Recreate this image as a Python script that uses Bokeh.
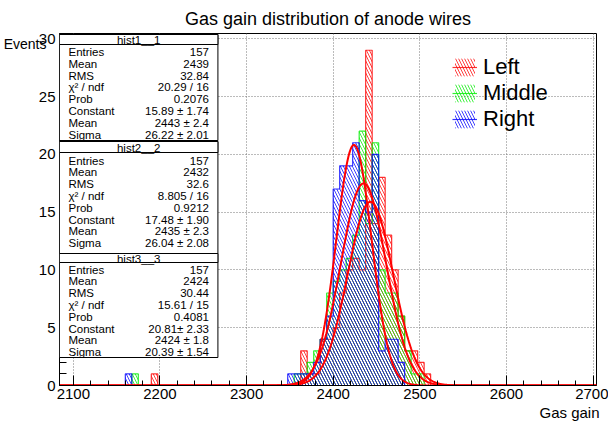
import numpy as np
from bokeh.plotting import figure
from bokeh.models import (Range1d, Label, BoxAnnotation, Legend, LegendItem, LinearAxis,
                          SingleIntervalTicker, FixedTicker, ColumnDataSource, Title)
from bokeh.embed import file_html
from bokeh.resources import INLINE

# ---------------- data ----------------
bin_width = 7.5
hist_min, hist_max = 2100, 2700
bin_lefts = [2160, 2167.5, 2190, 2347.5, 2355, 2362.5, 2370, 2377.5, 2385, 2392.5,
             2400, 2407.5, 2415, 2422.5, 2430, 2437.5, 2445, 2452.5, 2460, 2467.5,
             2475, 2482.5, 2490, 2497.5, 2505]
left_counts = [0, 0, 1, 0, 0, 3, 1, 1, 4, 4,
               5, 8, 10, 11, 10, 29, 14, 18, 13, 10,
               6, 3, 3, 2, 1]
middle_counts = [0, 1, 0, 0, 1, 1, 2, 3, 4, 8,
                 9, 10, 11, 13, 22, 14, 21, 10, 8, 8,
                 6, 3, 1, 1, 0]
right_counts = [1, 0, 0, 1, 1, 1, 1, 2, 4, 6,
                17, 19, 19, 21, 16, 15, 20, 3, 4, 4,
                2, 0, 0, 0, 0]

series_names = ["Left", "Middle", "Right"]
series_colors = ["#ff0000", "#00ee00", "#0000ff"]

# Gaussian fit parameters (Constant, Mean, Sigma) from the stat boxes
fit_constant = [15.89, 17.48, 20.81]
fit_mean = [2443, 2435, 2424]
fit_sigma = [26.22, 26.04, 20.39]

stat_titles = ["hist1__1", "hist2__2", "hist3__3"]
stat_names = ["Entries", "Mean", "RMS", "\u03c7\u00b2 / ndf", "Prob", "Constant", "Mean", "Sigma"]
stat_values = [
    ["157", "2439", "32.84", "20.29 / 16", "0.2076", "15.89 \u00b1 1.74", "2443 \u00b1 2.4", "26.22 \u00b1 2.01"],
    ["157", "2432", "32.6", "8.805 / 16", "0.9212", "17.48 \u00b1 1.90", "2435 \u00b1 2.3", "26.04 \u00b1 2.08"],
    ["157", "2424", "30.44", "15.61 / 15", "0.4081", "20.81\u00b1 2.33", "2424 \u00b1 1.8", "20.39 \u00b1 1.54"],
]

x_ticks_interval = 100
y_ticks_interval = 5
y_title = "Events"
x_title = "Gas gain"
title_text = "Gas gain distribution of anode wires"

# ---------------- layout ----------------
W, H = 608, 421
L, R, T, B = 57, 596, 33, 385
XL, XR = 2084, 2704
YB, YT = 0, 30.45
FONT = "Liberation Sans"


def dx(px):
    return XL + (px - L) / (R - L) * (XR - XL)


def dy(py):
    return YB + (B - py) / (B - T) * (YT - YB)


p = figure(width=W, height=H, output_backend="svg", toolbar_location=None,
           x_range=Range1d(XL, XR), y_range=Range1d(YB, YT),
           min_border_left=L, min_border_right=W - R, min_border_top=T,
           min_border_bottom=H - B)
p.background_fill_color = "white"
p.border_fill_color = "white"
p.outline_line_color = "black"
p.outline_line_width = 1

p.title.text = title_text
p.title.align = "center"
p.title.text_font = FONT
p.title.text_font_size = "18px"
p.title.text_font_style = "normal"
p.title.text_color = "black"
p.title.standoff = 10

for ax in (p.xaxis[0], p.yaxis[0]):
    ax.axis_line_color = "black"
    ax.major_tick_line_color = "black"
    ax.minor_tick_line_color = "black"
    ax.major_tick_out = 0
    ax.minor_tick_out = 0
    ax.major_label_text_font = FONT
    ax.major_label_text_font_size = "15px"
    ax.major_label_text_color = "black"

p.xaxis.ticker = SingleIntervalTicker(interval=x_ticks_interval, num_minor_ticks=5)
p.yaxis.ticker = SingleIntervalTicker(interval=y_ticks_interval, num_minor_ticks=5)
p.xaxis.major_tick_in = 10
p.xaxis.minor_tick_in = 5
p.yaxis.major_tick_in = 14
p.yaxis.minor_tick_in = 7
p.xaxis.major_label_standoff = 3
p.yaxis.major_label_standoff = 4

p.xgrid.ticker = p.xaxis[0].ticker
p.ygrid.ticker = p.yaxis[0].ticker
for g in (p.xgrid[0], p.ygrid[0]):
    g.grid_line_color = "#777777"
    g.grid_line_dash = "1 2"
    g.grid_line_width = 1

# y-axis title: an outer label-only axis on the left
y_title_pos = round(dy(44), 2)
ytitle_axis = LinearAxis(ticker=FixedTicker(ticks=[y_title_pos], minor_ticks=[]),
                         major_label_overrides={y_title_pos: y_title},
                         axis_line_color=None, major_tick_line_color=None,
                         minor_tick_line_color=None, major_tick_in=0, major_tick_out=0,
                         minor_tick_in=0, minor_tick_out=0, major_label_standoff=-11,
                         major_label_text_font=FONT, major_label_text_font_size="14px",
                         major_label_text_color="black")
p.add_layout(ytitle_axis, "left")

xt = Title(text=x_title, align="right", text_font=FONT, text_font_size="15px",
           text_font_style="normal", text_color="black", standoff=0, offset=-3)
p.add_layout(xt, "below")

# ---------------- histograms ----------------
n_bins = int(round((hist_max - hist_min) / bin_width))
edges = [hist_min + i * bin_width for i in range(n_bins + 1)]
legend_quads = []
legend_lines = []
for name, counts, col in zip(series_names, [left_counts, middle_counts, right_counts], series_colors):
    lefts = [b for b, c in zip(bin_lefts, counts) if c > 0]
    tops = [c for c in counts if c > 0]
    src = ColumnDataSource(dict(left=lefts, right=[b + bin_width for b in lefts],
                                top=tops, bottom=[0] * len(tops)))
    q = p.quad(left="left", right="right", top="top", bottom="bottom", source=src,
               fill_color=None, line_color=None,
               hatch_pattern="\\", hatch_color=col, hatch_alpha=0.75,
               hatch_scale=6, hatch_weight=1)
    full = [0.0] * n_bins
    for b, c in zip(bin_lefts, counts):
        full[int(round((b - hist_min) / bin_width))] = c
    st = p.step(x=edges, y=full + [0.0], mode="after", line_color=col,
                line_alpha=0.8, line_width=1.2)
    legend_quads.append(q)
    legend_lines.append(st)

# ---------------- fits ----------------
xs = np.linspace(XL, XR, 1200)
for c, m, s in zip(fit_constant, fit_mean, fit_sigma):
    ys = c * np.exp(-0.5 * ((xs - m) / s) ** 2)
    p.line(xs, ys, line_color="#ff0000", line_width=2)

# ---------------- legend ----------------
legend = Legend(items=[LegendItem(label=n, renderers=[q, ln])
                       for n, q, ln in zip(series_names, legend_quads, legend_lines)],
                location=(450 - L, B - 132), border_line_color=None,
                background_fill_alpha=0, label_text_font=FONT, label_text_color="black",
                label_text_font_size="22px", glyph_width=25, glyph_height=22,
                label_height=22, spacing=0, padding=0, margin=0, label_standoff=6)
p.add_layout(legend)

# ---------------- stat boxes ----------------
box_tops = [34, 141, 253]
box_bottoms = [140, 253, 357]
box_seps = [44, 152, 262]
title_centers = [39, 147, 258]
first_rows = [51.5, 160, 269]
row_step = 11.8
box_left, box_right = 57, 216
text_left, text_right = 66, 207

for i in range(3):
    p.add_layout(BoxAnnotation(left=dx(box_left), right=dx(box_right),
                               top=dy(box_tops[i]), bottom=dy(box_bottoms[i]),
                               fill_color="white", fill_alpha=1,
                               line_color="black", line_width=1, line_alpha=1))
    p.add_layout(BoxAnnotation(left=dx(box_left), right=dx(box_right),
                               top=dy(box_tops[i]), bottom=dy(box_seps[i]),
                               fill_color="white", fill_alpha=1,
                               line_color="black", line_width=1, line_alpha=1))
    p.add_layout(Label(x=dx((box_left + box_right) / 2), y=dy(title_centers[i]),
                       text=stat_titles[i], text_align="center", text_baseline="middle",
                       text_font=FONT, text_font_size="11.5px", text_color="black"))
    for k in range(8):
        yy = dy(first_rows[i] + k * row_step)
        p.add_layout(Label(x=dx(text_left), y=yy, text=stat_names[k], text_align="left",
                           text_baseline="middle", text_font=FONT,
                           text_font_size="11.5px", text_color="black"))
        p.add_layout(Label(x=dx(text_right), y=yy, text=stat_values[i][k], text_align="right",
                           text_baseline="middle", text_font=FONT,
                           text_font_size="11.5px", text_color="black"))

open("out.html", "w").write(file_html(p, INLINE))
